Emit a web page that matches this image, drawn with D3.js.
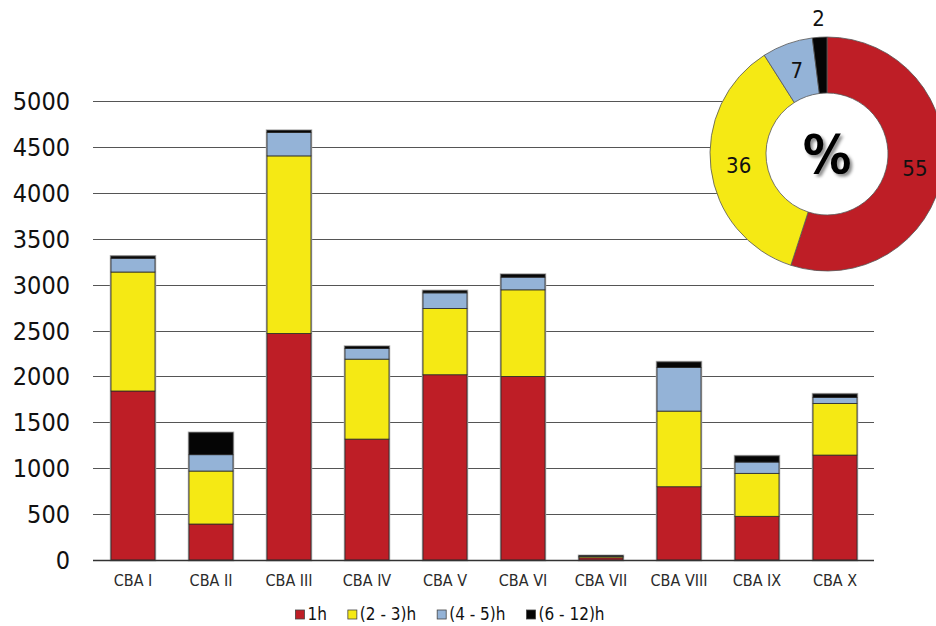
<!DOCTYPE html>
<html>
<head>
<meta charset="utf-8">
<script src="https://cdn.jsdelivr.net/npm/d3@7"></script>
<style>
  html, body { margin: 0; padding: 0; background: #fff; }
  svg { display: block; }
  text { font-family: "DejaVu Sans Condensed", "DejaVu Sans", sans-serif; }
</style>
</head>
<body>
<svg id="chart" width="936" height="626"></svg>
<script>
// ---- data ----
const categories = ["CBA I", "CBA II", "CBA III", "CBA IV", "CBA V", "CBA VI", "CBA VII", "CBA VIII", "CBA IX", "CBA X"];
const seriesNames = ["1h", "(2 - 3)h", "(4 - 5)h", "(6 - 12)h"];
const h1    = [1841, 392, 2468, 1317, 2018, 2000, 24, 798, 476, 1143];
const h2_3  = [1296, 577, 1934,  871,  722,  943, 16, 824, 468,  563];
const h4_5  = [ 150, 178,  254,  117,  170,  138,  3, 476, 123,   65];
const h6_12 = [  22, 239,   22,   21,   22,   29,  3,  58,  65,   36];
const yTicks = [0, 500, 1000, 1500, 2000, 2500, 3000, 3500, 4000, 4500, 5000];
const piePercent = [55, 36, 7, 2];
const colors = ["#be1e26", "#f5e914", "#94b3d7", "#050505"];

// ---- build ----
const svg = d3.select("#chart");
const seriesValues = [h1, h2_3, h4_5, h6_12];
const rows = categories.map((c, i) => {
  const r = { cat: c };
  seriesNames.forEach((s, k) => r[s] = seriesValues[k][i]);
  return r;
});

const x = d3.scaleBand().domain(categories).range([94, 874])
  .paddingInner(0.436).paddingOuter(0.218);
const y = d3.scaleLinear().domain([0, 5000]).range([560, 101]);

// gridlines
svg.append("g").selectAll("line").data(yTicks.filter(t => t > 0)).join("line")
  .attr("x1", 93).attr("x2", 874)
  .attr("y1", d => Math.round(y(d)) + 0.5).attr("y2", d => Math.round(y(d)) + 0.5)
  .attr("stroke", "#555").attr("stroke-width", 1.2);

// y tick labels
svg.append("g").selectAll("text").data(yTicks).join("text")
  .attr("x", 70).attr("y", d => y(d)).attr("dy", "0.36em")
  .attr("text-anchor", "end").attr("font-size", 25).attr("fill", "#111")
  .text(d => d);

// stacked bars
const stack = d3.stack().keys(seriesNames)(rows);
const totals = rows.map(r => seriesNames.reduce((a, s) => a + r[s], 0));

svg.append("g").selectAll("rect").data(rows).join("rect")
  .attr("x", d => x(d.cat)).attr("width", x.bandwidth())
  .attr("y", (d, i) => y(totals[i])).attr("height", (d, i) => y(0) - y(totals[i]))
  .attr("fill", "none").attr("stroke", "#b0b0b0").attr("stroke-width", 2.5);

svg.append("g").selectAll("g").data(stack).join("g")
  .attr("fill", (d, i) => colors[i])
  .selectAll("rect").data(d => d).join("rect")
  .attr("x", d => x(d.data.cat)).attr("width", x.bandwidth())
  .attr("y", d => y(d[1])).attr("height", d => Math.max(0, y(d[0]) - y(d[1])))
  .attr("stroke", "#2a2a2a").attr("stroke-width", 0.8);

// baseline
svg.append("line").attr("x1", 93).attr("x2", 874)
  .attr("y1", y(0) + 0.5).attr("y2", y(0) + 0.5)
  .attr("stroke", "#333").attr("stroke-width", 1.6);

// x labels
svg.append("g").selectAll("text").data(categories).join("text")
  .attr("x", d => x(d) + x.bandwidth() / 2).attr("y", 586)
  .attr("text-anchor", "middle").attr("font-size", 16).attr("fill", "#2b2b2b")
  .text(d => d);

// legend
const leg = svg.append("g");
let lx = 0;
seriesNames.forEach((s, i) => {
  const g = leg.append("g");
  g.append("rect").attr("x", 0).attr("y", -10).attr("width", 9).attr("height", 9)
    .attr("fill", colors[i]).attr("stroke", "#444").attr("stroke-width", 0.8);
  const t = g.append("text").attr("x", 12).attr("y", 0).attr("font-size", 17)
    .attr("fill", "#111").text(s);
  const w = 12 + t.node().getComputedTextLength();
  g.attr("transform", `translate(${lx},0)`);
  lx += w + 21;
});
const legW = lx - 21;
leg.attr("transform", `translate(${450 - legW / 2},620)`);

// donut
const cx = 827, cy = 154, R = 117, r0 = 61;
const defs = svg.append("defs");
const f = defs.append("filter").attr("id", "shadow").attr("x", "-30%").attr("y", "-30%")
  .attr("width", "160%").attr("height", "160%");
f.append("feDropShadow").attr("dx", 2.5).attr("dy", 2.5).attr("stdDeviation", 1.5)
  .attr("flood-color", "#000").attr("flood-opacity", 0.45);

const pg = svg.append("g").attr("transform", `translate(${cx},${cy})`);
pg.append("circle").attr("r", R).attr("fill", "#fff");
const pie = d3.pie().sort(null).value(d => d)(piePercent);
const arc = d3.arc().innerRadius(r0).outerRadius(R);
pg.selectAll("path").data(pie).join("path")
  .attr("d", arc).attr("fill", (d, i) => colors[i])
  .attr("stroke", "#555").attr("stroke-width", 0.8);
const outerArc = d3.arc().innerRadius(136).outerRadius(136);
pg.selectAll("text.lbl").data(pie).join("text").attr("class", "lbl")
  .attr("transform", (d, i) => {
    const c = i === 3 ? outerArc.centroid(d) : arc.centroid(d);
    return `translate(${c[0]},${c[1]})`;
  })
  .attr("dy", "0.36em").attr("text-anchor", "middle")
  .attr("font-size", 22).attr("fill", "#111")
  .text(d => d.data);
pg.append("text").attr("x", 0).attr("y", 0).attr("dy", "0.36em")
  .attr("text-anchor", "middle").attr("font-size", 54).attr("font-weight", "bold")
  .attr("fill", "#000").attr("filter", "url(#shadow)").text("%");
</script>
</body>
</html>
